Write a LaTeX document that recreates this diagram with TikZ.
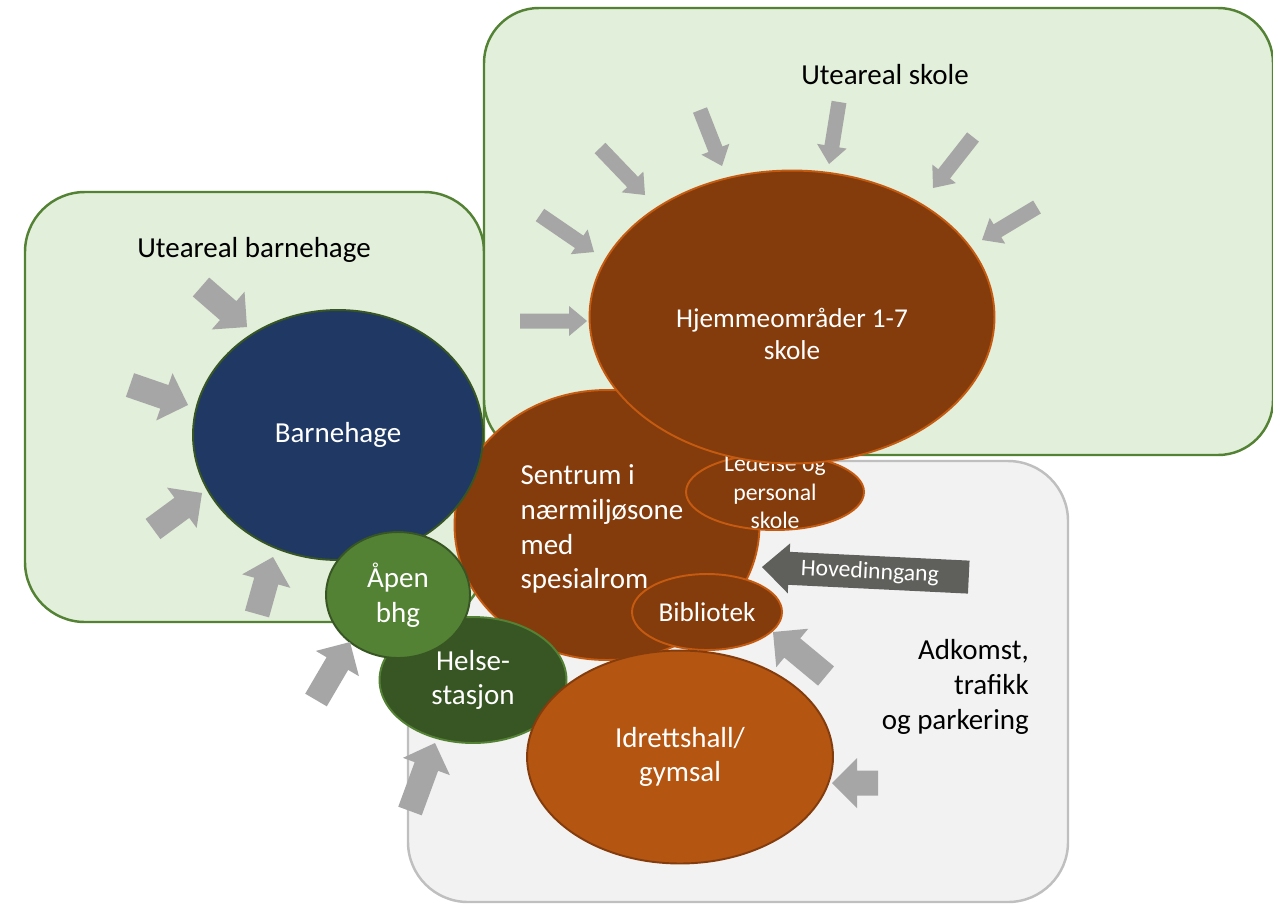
\documentclass[tikz,border=0pt]{standalone}
\usepackage{fontspec}
\setmainfont{Carlito}
\usetikzlibrary{shapes.geometric,calc}

\definecolor{gronnfyll}{HTML}{E2EFDA}
\definecolor{gronnkant}{HTML}{548235}
\definecolor{grafyll}{HTML}{F2F2F2}
\definecolor{grakant}{HTML}{BFBFBF}
\definecolor{marine}{HTML}{203864}
\definecolor{morkgronn}{HTML}{375623}
\definecolor{brun}{HTML}{843C0C}
\definecolor{oransje}{HTML}{C55A11}
\definecolor{hallbrun}{HTML}{B45511}
\definecolor{pilgra}{HTML}{A6A6A6}
\definecolor{inngang}{HTML}{5F605B}

\newcommand{\storskrift}{\fontsize{16.5}{19.8}\selectfont}
\newcommand{\midtskrift}{\fontsize{15.5}{18.6}\selectfont}
\newcommand{\litenskrift}{\fontsize{13.5}{16.2}\selectfont}

% blokkpil: fra, til, halv skaftbredde, halv hodebredde, hodelengde
\newcommand{\blokkpil}[5]{%
  \coordinate (pilfot) at ($(#2)!#5!(#1)$);
  \fill[pilgra] ($(#1)!#3!90:(#2)$) -- ($(pilfot)!#3!90:(#2)$) -- ($(pilfot)!#4!90:(#2)$) -- (#2)
    -- ($(pilfot)!#4!-90:(#2)$) -- ($(pilfot)!#3!-90:(#2)$) -- ($(#1)!#3!-90:(#2)$) -- cycle;
}

\begin{document}
\begin{tikzpicture}[x=0.02cm, y=-0.02cm,
    boks/.style={rounded corners=1.2cm, line width=1.4pt},
    rom/.style={ellipse, draw, line width=1.1pt, inner sep=1pt, text=white, align=center, font=\storskrift},
    tekst/.style={font=\storskrift, align=center}]
  \useasboundingbox (0,0) rectangle (1273,903);

  \draw[boks, fill=grafyll, draw=grakant] (408,461) rectangle (1068,902);
  \draw[boks, fill=gronnfyll, draw=gronnkant] (25,192) rectangle (484,622);
  \draw[boks, rounded corners=1.1cm, fill=gronnfyll, draw=gronnkant] (484,8) rectangle (1273,455);

  \node[rom, fill=brun, draw=oransje, minimum width=6.1cm, minimum height=5.4cm] (sentrum) at (607,525) {};
  \node[text=white, align=left, font=\storskrift] (sentrumtekst) at (602,529) {Sentrum i\\nærmiljøsone\\med\\spesialrom};
  \node[rom, fill=brun, draw=oransje, minimum width=3.56cm, minimum height=1.52cm] (ledelse) at (775,492) {};
  \node[text=white, align=center, font=\litenskrift] (ledelsetekst) at (ledelse) {Ledelse og\\personal\\skole};
  \node[rom, fill=brun, draw=oransje, minimum width=8.1cm, minimum height=5.86cm] (hjem) at (792,317) {};
  \node[text=white, align=center, font=\midtskrift] (hjemtekst) at (792,334) {Hjemmeområder 1-7\\skole};
  \node[rom, fill=marine, draw=morkgronn, minimum width=5.8cm, minimum height=5cm] (barnehage) at (338,435) {Barnehage};
  \node[rom, fill=brun, draw=oransje, font=\midtskrift, minimum width=3cm, minimum height=1.52cm] (bibliotek) at (707,612) {Bibliotek};
  \node[rom, fill=morkgronn, draw=gronnkant, minimum width=3.74cm, minimum height=2.52cm] (helse) at (473,680) {Helse-\\stasjon};
  \node[rom, fill=gronnkant, draw=morkgronn, minimum width=2.88cm, minimum height=2.52cm] (apen) at (398,595) {Åpen\\bhg};
  \node[rom, fill=hallbrun, draw=brun, minimum width=6.12cm, minimum height=4.26cm] (idrett) at (680,757) {Idrettshall/\\gymsal};

  \node[tekst] (utebarnehage) at (254,250) {Uteareal barnehage};
  \node[tekst] (uteskole) at (885,75) {Uteareal skole};
  \node[tekst, align=right, anchor=east] (adkomst) at (1035,687) {Adkomst,\\trafikk\\og parkering};

  % piler mot skolen
  \foreach \xa/\ya/\xb/\yb in {520/321/587/321, 540/215/594/252, 600/148/645/195, 700/110/722/166,
      839/102/829/164, 973/137/933/188, 1037/207/982/240} {
    \coordinate (fra) at (\xa,\ya);
    \coordinate (til) at (\xb,\yb);
    \blokkpil{fra}{til}{0.15cm}{0.3cm}{0.36cm}
  }
  % tykke piler
  \foreach \xa/\ya/\xb/\yb in {201/287/247/327, 130/385/188/405, 153/529/202/493, 257/614/273/557,
      316/700/350/642, 410/811/435/743, 826/676/773/632, 878/783/832/783} {
    \coordinate (fra) at (\xa,\ya);
    \coordinate (til) at (\xb,\yb);
    \blokkpil{fra}{til}{0.25cm}{0.5cm}{0.5cm}
  }

  \begin{scope}[shift={(762,567)}, rotate=-2.8]
    \fill[inngang] (0,0) -- (27,-25) -- (27,-16.5) -- (207,-16.5) -- (207,16.5) -- (27,16.5) -- (27,25) -- cycle;
    \node[text=white, font=\litenskrift, rotate=-2.8] (hovedinngang) at (108,0) {Hovedinngang};
  \end{scope}
\end{tikzpicture}
\end{document}
